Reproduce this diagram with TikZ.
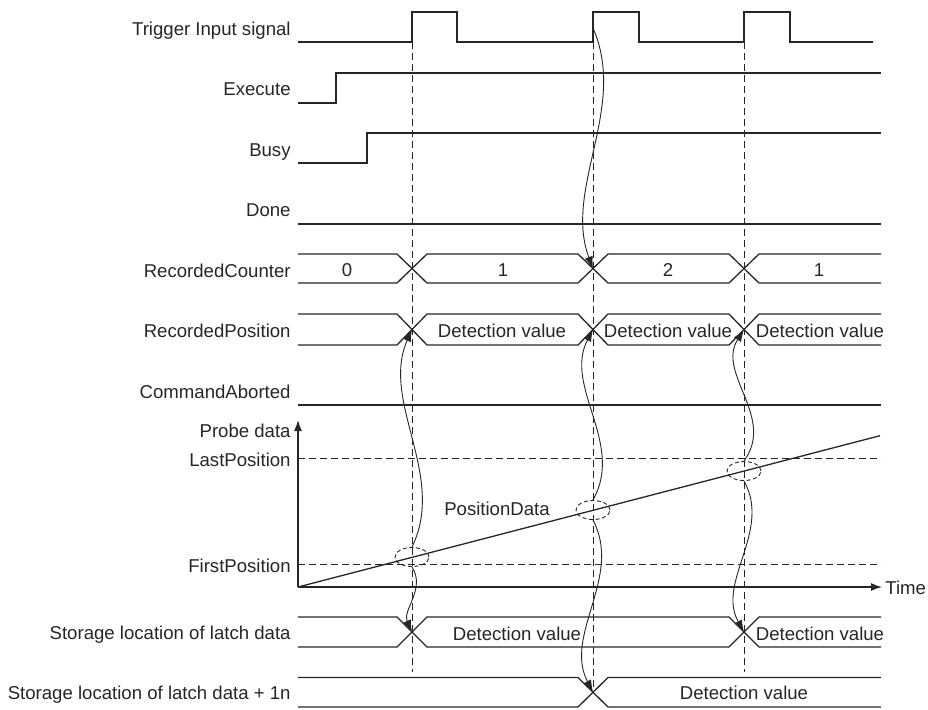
\documentclass[tikz,border=0pt]{standalone}
\usepackage{fontspec}
\setmainfont{Liberation Sans}
\usetikzlibrary{arrows.meta, shapes.geometric}

\tikzset{
  sig/.style={line width=0.65pt, black!85},
  guide/.style={line width=0.45pt, black!85, dash pattern=on 3.5pt off 2pt},
  latch/.style={-{Latex[length=6pt,width=4.2pt]}, line width=0.45pt, black!85},
  lbl/.style={anchor=east, inner sep=0pt, text height=6.66pt, text depth=0pt, text=black!85},
  val/.style={inner sep=0pt, text height=6.66pt, text depth=0pt, text=black!85},
  probe/.style={draw, ellipse, line width=0.45pt, black!85, dash pattern=on 2pt off 1.3pt,
    minimum width=17pt, minimum height=9.5pt, inner sep=0pt},
}

\begin{document}
\begin{tikzpicture}[x=0.5pt, y=-0.5pt, >={Latex[length=5.5pt,width=4pt]},
    font=\fontsize{9.3}{11}\selectfont]
\useasboundingbox (0,0) rectangle (928,709);

% signal names
\node[lbl] (ntrig) at (291,28.5) {Trigger Input signal};
\node[lbl] (nexec) at (291,89) {Execute};
\node[lbl] (nbusy) at (291,150) {Busy};
\node[lbl] (ndone) at (291,210) {Done};
\node[lbl] (ncount) at (291,271) {RecordedCounter};
\node[lbl] (npos) at (291,330.5) {RecordedPosition};
\node[lbl] (nabort) at (291,392) {CommandAborted};
\node[lbl] (nprobe) at (291,431) {Probe data};
\node[lbl] (nlast) at (291,460) {LastPosition};
\node[lbl] (nfirst) at (291,566) {FirstPosition};
\node[lbl] (nstore) at (291,633) {Storage location of latch data};
\node[lbl] (nstorenext) at (291,693) {Storage location of latch data + 1n};

% trigger timing guides
\foreach \x/\e in {412/672, 593/692, 744/672}
  \draw[guide] (\x,42) -- (\x,\e);

% bit signals
\draw[sig] (298,42) -- (412,42) -- (412,12) -- (457,12) -- (457,42) -- (593,42) -- (593,12)
  -- (639,12) -- (639,42) -- (744,42) -- (744,12) -- (790,12) -- (790,42) -- (873,42);
\draw[sig] (298,103) -- (336,103) -- (336,73) -- (881,73);
\draw[sig] (298,163) -- (367,163) -- (367,133) -- (881,133);
\draw[sig] (298,224) -- (881,224);
\draw[sig] (298,405) -- (881,405);

% counter and position buses
\foreach \t/\b in {254/283, 314/345} {
  \draw[sig] (298,\t) -- (397,\t) -- (427,\b) -- (578,\b) -- (608,\t) -- (729,\t) -- (759,\b) -- (881,\b);
  \draw[sig] (298,\b) -- (397,\b) -- (427,\t) -- (578,\t) -- (608,\b) -- (729,\b) -- (759,\t) -- (881,\t);
}
\node[val] (c0) at (347,269.5) {0};
\node[val] (c1) at (503,269.5) {1};
\node[val] (c2) at (668,269.5) {2};
\node[val] (c3) at (819,269.5) {1};
\node[val] (p1) at (502,330.5) {Detection value};
\node[val] (p2) at (668,330.5) {Detection value};
\node[val] (p3) at (820,330.5) {Detection value};

% storage buses
\draw[sig] (298,617) -- (397,617) -- (427,647) -- (729,647) -- (759,617) -- (881,617);
\draw[sig] (298,647) -- (397,647) -- (427,617) -- (729,617) -- (759,647) -- (881,647);
\draw[sig] (298,677.5) -- (578,677.5) -- (608,707) -- (881,707);
\draw[sig] (298,707) -- (578,707) -- (608,677.5) -- (881,677.5);
\node[val] (s1) at (517,633.5) {Detection value};
\node[val] (s3) at (820,633.5) {Detection value};
\node[val] (sn) at (744,693) {Detection value};

% probe data graph
\draw[guide] (298,458) -- (881,458);
\draw[guide] (298,564) -- (881,564);
\draw[sig, ->] (298,587) -- (298,420);
\draw[sig, ->] (298,587) -- (882,587);
\node[val, anchor=west] (ntime) at (885,587.5) {Time};
\draw[sig] (298,587) -- (880,435.7);
\node[val] (ndata) at (497,509) {PositionData};
\node[probe] (pd1) at (412,557) {};
\node[probe] (pd2) at (593,510) {};
\node[probe] (pd3) at (744,471) {};

% crossing points
\coordinate (tr2) at (593,28);
\coordinate (rc2) at (593,268.5);
\coordinate (rp1) at (412,329.5);
\coordinate (rp2) at (593,329.5);
\coordinate (rp3) at (744,329.5);
\coordinate (st1) at (412,632);
\coordinate (st3) at (744,632);
\coordinate (sn2) at (593,692);

% latch arrows
\draw[latch] (tr2) .. controls +(35,80) and +(-30,-80) .. (rc2);
\draw[latch] (pd1.north) .. controls +(35,-72) and +(-32,72) .. (rp1);
\draw[latch] (pd2.north) .. controls +(32,-57) and +(-30,57) .. (rp2);
\draw[latch] (pd3.north) .. controls +(32,-44) and +(-28,44) .. (rp3);
\draw[latch] (pd1.south) .. controls +(14,22) and +(-10,-22) .. (st1);
\draw[latch] (pd2.south) .. controls +(30,57) and +(-30,-57) .. (sn2);
\draw[latch] (pd3.south) .. controls +(28,50) and +(-28,-50) .. (st3);
\end{tikzpicture}
\end{document}
